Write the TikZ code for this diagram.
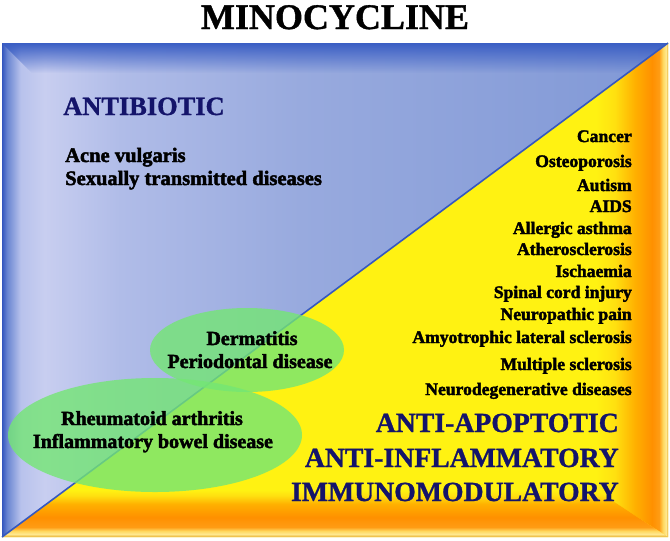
\documentclass[tikz,border=0pt]{standalone}
\usepackage{fontspec}
\setmainfont{Liberation Serif}
\newfontfamily\hv[FakeBold=2.2]{Liberation Serif Bold}
\newfontfamily\hd[FakeBold=1]{Liberation Serif Bold}
\newfontfamily\bd{Liberation Serif Bold}
\usetikzlibrary{fadings}
\definecolor{navy}{HTML}{14146A}
\definecolor{bl0}{HTML}{3356BE}
\definecolor{bl1}{HTML}{6A86D2}
\definecolor{bl2}{HTML}{B8C2EC}
\definecolor{bl3}{HTML}{C8CEF0}
\definecolor{bl4}{HTML}{B0BCE8}
\definecolor{bl5}{HTML}{98AADE}
\definecolor{bl6}{HTML}{8098D6}
\definecolor{bltop}{HTML}{3A5EC4}
\definecolor{diagblue}{HTML}{3558C0}
\definecolor{ye}{HTML}{FFF212}
\definecolor{y1}{HTML}{FFE010}
\definecolor{o1}{HTML}{FFB000}
\definecolor{o2}{HTML}{FF9000}
\definecolor{o3}{HTML}{FF9C14}
\definecolor{o4}{HTML}{FFD860}
\definecolor{o5}{HTML}{FFE890}
\definecolor{o6}{HTML}{E8B030}
\definecolor{gr}{HTML}{74E674}
\pgfdeclarehorizontalshading{blueH}{100bp}{color(0bp)=(bl0); color(25bp)=(bl0); color(25.4bp)=(bl1); color(26.4bp)=(bl2); color(28.2bp)=(bl3); color(33.9bp)=(bl4); color(47.4bp)=(bl5); color(75bp)=(bl6); color(100bp)=(bl6)}
\pgfdeclarehorizontalshading{orR}{100bp}{color(0bp)=(ye); color(25bp)=(ye); color(38.2bp)=(y1); color(52.1bp)=(o1); color(63.9bp)=(o2); color(68.75bp)=(o3); color(71.5bp)=(o4); color(73.6bp)=(o5); color(75bp)=(o6); color(100bp)=(o6)}
\pgfdeclareverticalshading{orB}{100bp}{color(0bp)=(o6); color(25bp)=(o6); color(28.2bp)=(o5); color(31.4bp)=(o4); color(35.6bp)=(o3); color(46bp)=(o2); color(60bp)=(o1); color(69bp)=(y1); color(75bp)=(ye); color(100bp)=(ye)}
\begin{document}
\begin{tikzpicture}[x=0.75pt,y=-0.75pt,
  dis/.style={font=\hv\fontsize{13.2}{15}\selectfont, text=black, inner sep=0pt, anchor=base east},
  lft/.style={font=\hv\fontsize{15.4}{17}\selectfont, text=black, inner sep=0pt, anchor=base west},
  ell/.style={font=\hv\fontsize{15}{17}\selectfont, text=black, inner sep=0pt, anchor=base},
  head/.style={font=\hd\fontsize{20.8}{24}\selectfont, text=navy, inner sep=0pt, anchor=base east},
  greenfill/.style={fill=gr, fill opacity=0.8},
  diagline/.style={draw=diagblue, line width=1.2pt}]
\useasboundingbox (0,0) rectangle (670,540);
\coordinate (tl) at (2,43);
\coordinate (tr) at (668,43);
\coordinate (br) at (668,537);
\coordinate (bl) at (2,537);
% blue half
\shade[shading=blueH] (tl) -- (tr) -- (bl) -- cycle;
\begin{scope}
  \clip (tl) -- (tr) -- (bl) -- cycle;
  \fill[bltop, path fading=south] (tl) -- (tr) -- (668,73) -- (32,73) -- cycle;
\end{scope}
% yellow half
\fill[ye] (tr) -- (br) -- (bl) -- cycle;
\begin{scope}
  \clip (tr) -- (br) -- (bl) -- cycle;
  \shade[shading=orR] (596,43) -- (tr) -- (br) -- (596,490) -- cycle;
  \shade[shading=orB] (2,490) -- (596,490) -- (br) -- (bl) -- cycle;
\end{scope}
\draw[diagline] (tr) -- (bl);
% green ellipses
\fill[greenfill] (247,350) ellipse [x radius=72.75pt, y radius=31.5pt];
\fill[greenfill] (155,435) ellipse [x radius=110.25pt, y radius=42.75pt];
% title
\node[font=\hd\fontsize{27}{30}\selectfont, inner sep=0pt, anchor=base] (title) at (335,29) {MINOCYCLINE};
% antibiotic
\node[font=\hd\fontsize{19.8}{22}\selectfont, text=navy, inner sep=0pt, anchor=base west] (anti) at (63,115) {ANTIBIOTIC};
\node[lft] (acne) at (65,162) {Acne vulgaris};
\node[lft] (std) at (65,185) {Sexually transmitted diseases};
% ellipse texts
\node[ell] (derm) at (252,345) {Dermatitis};
\node[ell] (perio) at (250,368) {Periodontal disease};
\node[ell] (rheu) at (152,425) {Rheumatoid arthritis};
\node[ell] (ibd) at (153,448) {Inflammatory bowel disease};
% right list
\node[dis] (r1) at (632,142) {Cancer};
\node[dis] (r2) at (632,167) {Osteoporosis};
\node[dis] (r3) at (632,191) {Autism};
\node[dis] (r4) at (632,212) {AIDS};
\node[dis] (r5) at (632,234) {Allergic asthma};
\node[dis] (r6) at (632,255) {Atherosclerosis};
\node[dis] (r7) at (632,277) {Ischaemia};
\node[dis] (r8) at (632,298) {Spinal cord injury};
\node[dis] (r9) at (632,320) {Neuropathic pain};
\node[dis] (r10) at (632,343) {Amyotrophic lateral sclerosis};
\node[dis] (r11) at (632,370) {Multiple sclerosis};
\node[dis] (r12) at (632,395) {Neurodegenerative diseases};
% headings
\node[head] (h1) at (619,432) {ANTI-APOPTOTIC};
\node[head] (h2) at (619,467) {ANTI-INFLAMMATORY};
\node[head] (h3) at (619,501) {IMMUNOMODULATORY};
\end{tikzpicture}
\end{document}
